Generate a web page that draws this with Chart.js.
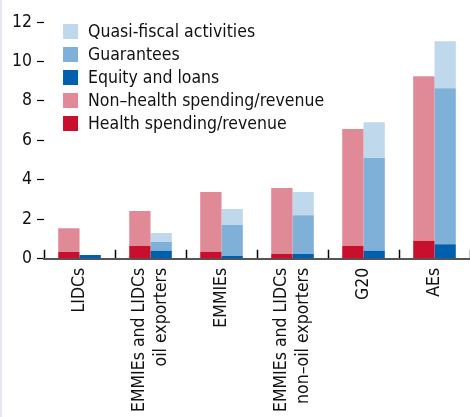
<!DOCTYPE html>
<html>
<head>
<meta charset="utf-8">
<script src="https://cdn.jsdelivr.net/npm/chart.js@4"></script>
<style>
  html, body { margin: 0; padding: 0; background: #fff; overflow: hidden; }
  body { border-left: 2px solid #ebe5f3; width: 468px; height: 417px; }
  #wrap { position: relative; width: 474px; height: 430px; }
</style>
</head>
<body>
<div id="wrap"><canvas id="chart"></canvas></div>
<script>
// categories and series (percent of GDP)
// single-line labels get an empty first line so they centre like the two-line ones
const categories = [
    ['', 'LIDCs'],
    ['EMMIEs and LIDCs', 'oil exporters'],
    ['', 'EMMIEs'],
    ['EMMIEs and LIDCs', 'non\u2013oil exporters'],
    ['', 'G20'],
    ['', 'AEs']
];
const healthSpending = [0.34, 0.64, 0.35, 0.24, 0.64, 0.91];
const nonHealthSpending = [1.21, 1.78, 3.03, 3.34, 5.93, 8.34];
const equityLoans = [0.19, 0.40, 0.14, 0.24, 0.40, 0.74];
const guarantees = [0, 0.45, 1.57, 1.97, 4.70, 7.90];
const quasiFiscal = [0, 0.45, 0.81, 1.17, 1.82, 2.38];
const yTicks = [0, 2, 4, 6, 8, 10, 12];

const FONT = "'Liberation Sans Narrow', 'DejaVu Sans Condensed', 'Arial Narrow', sans-serif";
const FSIZE = 17.5;
const LINE_H = 22;

const datasets = [
    { label: 'Health spending/revenue', data: healthSpending, backgroundColor: '#c8102e', stack: 'left' },
    { label: 'Non\u2013health spending/revenue', data: nonHealthSpending, backgroundColor: '#e08a97', stack: 'left' },
    { label: 'Equity and loans', data: equityLoans, backgroundColor: '#0060ae', stack: 'right' },
    { label: 'Guarantees', data: guarantees, backgroundColor: '#7fb0d8', stack: 'right' },
    { label: 'Quasi-fiscal activities', data: quasiFiscal, backgroundColor: '#c0d8ec', stack: 'right' }
];
// legend is listed top to bottom
const legendOrder = [4, 3, 2, 1, 0];

// legend inside the plot, top left
const insideLegend = {
    id: 'insideLegend',
    afterDraw(chart) {
        const ctx = chart.ctx;
        const area = chart.chartArea;
        ctx.save();
        ctx.font = FSIZE + 'px ' + FONT;
        ctx.textBaseline = 'middle';
        legendOrder.forEach((idx, i) => {
            const ds = chart.data.datasets[idx];
            const y = area.top + 9 + i * 23;
            ctx.fillStyle = ds.backgroundColor;
            ctx.fillRect(area.left + 19, y - 7, 15, 15);
            ctx.fillStyle = '#111';
            ctx.fillText(ds.label, area.left + 44, y + 1);
        });
        ctx.restore();
    }
};

const chart = new Chart(document.getElementById('chart'), {
    type: 'bar',
    data: { labels: categories, datasets },
    options: {
        maintainAspectRatio: false,
        animation: false,
        layout: { padding: { left: 5, top: 22, right: 0, bottom: 0 } },
        plugins: { legend: { display: false }, tooltip: { enabled: false } },
        datasets: { bar: { categoryPercentage: 0.6, barPercentage: 1.0 } },
        scales: {
            x: {
                stacked: true,
                grid: {
                    drawOnChartArea: false,
                    offset: true,
                    tickLength: -9,
                    tickWidth: 1.5,
                    tickColor: '#000'
                },
                border: { display: true, color: '#555', width: 2 },
                ticks: {
                    autoSkip: false,
                    minRotation: 90,
                    maxRotation: 90,
                    padding: 18,
                    labelOffset: -LINE_H / 2,
                    color: '#111',
                    font: c => ({
                        family: FONT,
                        size: FSIZE,
                        lineHeight: (categories[c.index][0] === '' ? LINE_H / 2 : LINE_H) + 'px'
                    })
                }
            },
            y: {
                stacked: true,
                min: 0,
                max: 12,
                afterBuildTicks: s => { s.ticks = yTicks.map(v => ({ value: v })); },
                grid: { drawOnChartArea: false, tickLength: 7, tickWidth: 1.2, tickColor: '#000' },
                border: { display: false },
                ticks: { padding: 5, color: '#111', font: { family: FONT, size: FSIZE } }
            },
            y2: {
                position: 'right',
                min: 0,
                max: 12,
                afterBuildTicks: s => { s.ticks = yTicks.map(v => ({ value: v })); },
                grid: { drawOnChartArea: false, tickLength: 6, tickWidth: 1.2, tickColor: '#000' },
                border: { display: false },
                ticks: { display: false }
            }
        }
    },
    plugins: [insideLegend]
});
</script>
</body>
</html>
